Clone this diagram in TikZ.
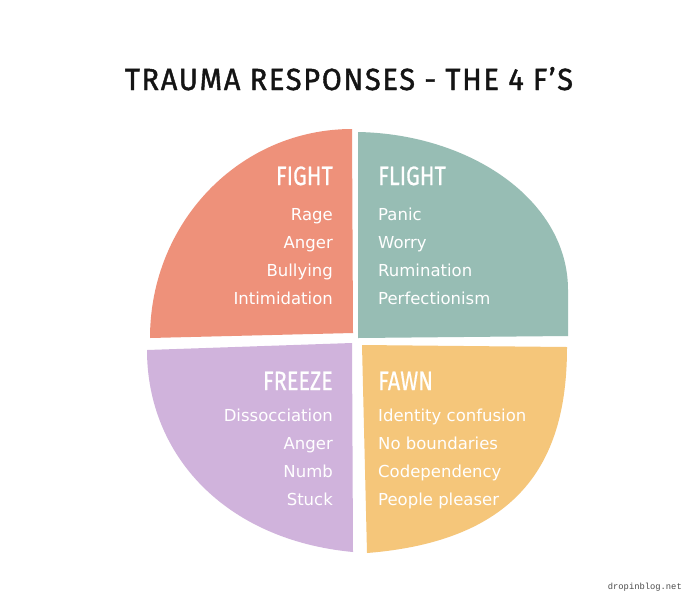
\documentclass[tikz,border=0pt]{standalone}
\usepackage{fontspec}
\setmainfont{DejaVu Sans}
\newfontfamily\headfont{Fira Sans}[FakeBold=0.6]
\newfontfamily\titlefont{Fira Sans}[LetterSpace=6, FakeBold=1.4]
\newfontfamily\markfont{Liberation Mono}
\definecolor{fightc}{HTML}{EE917A}
\definecolor{flightc}{HTML}{97BDB4}
\definecolor{freezec}{HTML}{D0B3DC}
\definecolor{fawnc}{HTML}{F5C67A}
\definecolor{titlec}{HTML}{141414}
\tikzset{
  headR/.style={anchor=base east, inner sep=0pt, text=white, font=\headfont\fontsize{26.5}{27}\selectfont},
  headL/.style={anchor=base west, inner sep=0pt, text=white, font=\headfont\fontsize{26.5}{27}\selectfont},
  itemR/.style={anchor=base east, inner sep=0pt, text=white, font=\fontsize{16.5}{17}\selectfont},
  itemL/.style={anchor=base west, inner sep=0pt, text=white, font=\fontsize{16.5}{17}\selectfont}
}
\begin{document}
\begin{tikzpicture}[x=1pt,y=-1pt]
\useasboundingbox[fill=white] (0,0) rectangle (700,600);
% quadrants
\fill[fightc] (150,338) .. controls (150,222) and (240,129) .. (352,129) -- (353,333) -- cycle;
\fill[flightc] (358,132) .. controls (470,134) and (568,200) .. (568,290) -- (568,336) -- (358,338) -- cycle;
\fill[freezec] (147,350) -- (352,343) -- (353,552) .. controls (225,540) and (147,455) .. cycle;
\fill[fawnc] (362,345) -- (567,347) .. controls (567,450) and (530,540) .. (367,553) -- cycle;
% title
\node[anchor=base, inner sep=0pt, text=titlec] (title) at (349,90) {\resizebox{448pt}{23pt}{\titlefont TRAUMA RESPONSES - THE 4 F’S}};
% fight
\node[headR] (fight) at (333,185) {\scalebox{0.82}[1]{FIGHT}};
\node[itemR] (f1) at (333,220) {Rage};
\node[itemR] (f2) at (333,248) {Anger};
\node[itemR] (f3) at (333,276) {Bullying};
\node[itemR] (f4) at (333,304) {Intimidation};
% flight
\node[headL] (flight) at (378,185) {\scalebox{0.82}[1]{FLIGHT}};
\node[itemL] (l1) at (378,220) {Panic};
\node[itemL] (l2) at (378,248) {Worry};
\node[itemL] (l3) at (378,276) {Rumination};
\node[itemL] (l4) at (378,304) {Perfectionism};
% freeze
\node[headR] (freeze) at (333,390) {\scalebox{0.82}[1]{FREEZE}};
\node[itemR] (z1) at (333,421) {Dissocciation};
\node[itemR] (z2) at (333,449) {Anger};
\node[itemR] (z3) at (333,477) {Numb};
\node[itemR] (z4) at (333,505) {Stuck};
% fawn
\node[headL] (fawn) at (378,390) {\scalebox{0.82}[1]{FAWN}};
\node[itemL] (w1) at (378,421) {Identity confusion};
\node[itemL] (w2) at (378,449) {No boundaries};
\node[itemL] (w3) at (378,477) {Codependency};
\node[itemL] (w4) at (378,505) {People pleaser};
% watermark
\node[anchor=base east, inner sep=0pt, text=black!70, font=\markfont\fontsize{8.8}{9}\selectfont] (mark) at (682,589) {dropinblog.net};
\end{tikzpicture}
\end{document}
